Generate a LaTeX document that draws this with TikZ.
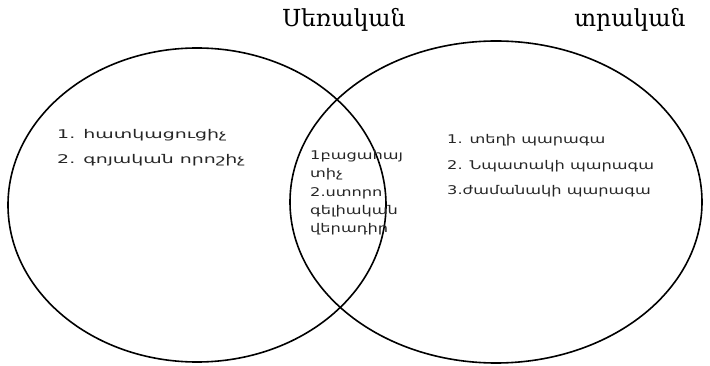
\documentclass[tikz,border=0pt]{standalone}
\usepackage{fontspec}
\setmainfont{DejaVu Serif}
\newfontfamily\armsans{DejaVu Sans}
\newfontfamily\armwide[FakeStretch=1.35]{DejaVu Sans}
\newfontfamily\armwider[FakeStretch=1.58]{DejaVu Sans}
\begin{document}
\begin{tikzpicture}[x=1pt,y=-1pt,
  circ/.style={draw=black,line width=1.6pt},
  item/.style={anchor=west,inner sep=0pt,font=\armwide\fontsize{12}{18}\selectfont,text=black!85},
  litem/.style={item,font=\armwider\fontsize{12}{18}\selectfont},
  title/.style={anchor=center,inner sep=0pt,font=\fontsize{23.5}{26}\selectfont}]
\useasboundingbox[fill=white] (0,0) rectangle (710,366);
\draw[circ] (197,205) ellipse [x radius=189, y radius=157];
\draw[circ] (496,202) ellipse [x radius=206, y radius=161];
\node[title] (t1) at (344,20) {Սեռական};
\node[title] (t2) at (630,20) {տրական};
\node[litem] (l1) at (57,135) {1. հատկացուցիչ};
\node[litem] (l2) at (57,160) {2. գոյական որոշիչ};
\node[item,align=left,anchor=north west] (m1) at (310,150) {1բացահայ\\տիչ};
\node[item,align=left,anchor=north west] (m2) at (310,187) {2.ստորո\\գելիական\\վերադիր};
\node[item] (r1) at (447,140) {1. տեղի պարագա};
\node[item] (r2) at (447,166) {2. Նպատակի պարագա};
\node[item] (r3) at (447,191) {3.ժամանակի պարագա};
\end{tikzpicture}
\end{document}
